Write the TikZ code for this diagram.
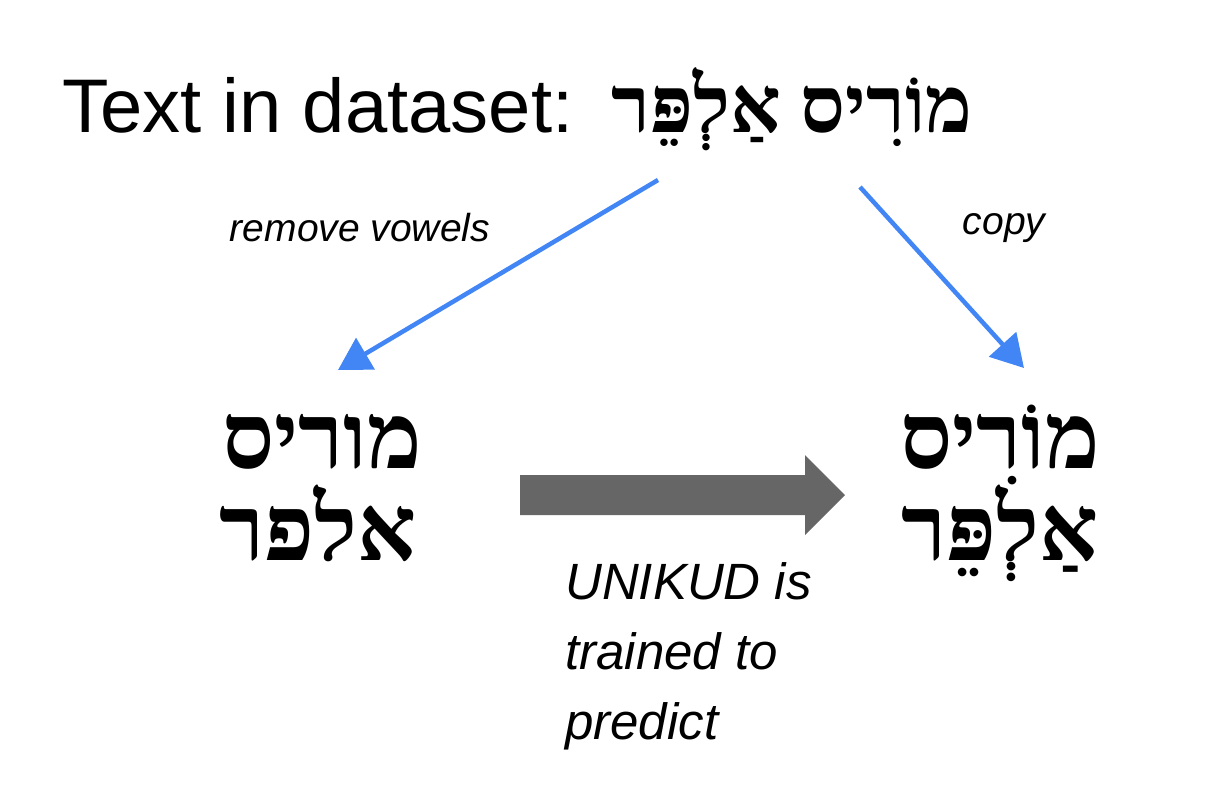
\documentclass[tikz,border=0pt]{standalone}
\usepackage{fontspec}
\setmainfont{Liberation Sans}
\newfontfamily\heb[Script=Hebrew]{Liberation Serif}
\TeXXeTstate=1
\usetikzlibrary{arrows.meta,shapes.arrows}
\definecolor{gblue}{HTML}{4285F4}
\definecolor{ggray}{HTML}{666666}
\begin{document}
\begin{tikzpicture}[x=1pt,y=-1pt,
  hebtxt/.style={font=\heb\bfseries\fontsize{92}{96}\selectfont, inner sep=0pt},
  lbl/.style={font=\itshape\fontsize{39}{42}\selectfont, inner sep=0pt},
  conn/.style={gblue, line width=4.5pt, -{Triangle[length=32pt,width=36pt]}}]
\useasboundingbox (0,0) rectangle (1232,804);
\node[anchor=base west, inner sep=0pt, font=\fontsize{76}{80}\selectfont] (title) at (62,132) {Text in dataset:};
\node[hebtxt, anchor=base, font=\heb\bfseries\fontsize{79}{86}\selectfont] (src) at (792,132) {\beginR מוֹרִיס אַלְפֵּר\endR};
\coordinate (s1) at (658,180);
\coordinate (s2) at (860,187);
\node[hebtxt, anchor=base] (l1) at (322,468) {\beginR מוריס\endR};
\node[hebtxt, anchor=base] (l2) at (318,560) {\beginR אלפר\endR};
\node[hebtxt, anchor=base] (r1) at (1000,468) {\beginR מוֹרִיס\endR};
\node[hebtxt, anchor=base] (r2) at (1000,560) {\beginR אַלְפֵּר\endR};
\coordinate (lt) at (338,370);
\coordinate (rt) at (1024,368);
\draw[conn] (s1) -- (lt);
\draw[conn] (s2) -- (rt);
\node[lbl] (rv) at (360,228) {remove vowels};
\node[lbl] (cp) at (1004,228) {copy};
\fill[ggray] (520,475) -- (805,475) -- (805,455) -- (845,495) -- (805,535) -- (805,515) -- (520,515) -- cycle;
\node[anchor=north west, inner sep=0pt, align=left, font=\itshape\fontsize{51}{70}\selectfont] (uk) at (565,562) {UNIKUD is\\trained to\\predict};
\end{tikzpicture}
\end{document}
